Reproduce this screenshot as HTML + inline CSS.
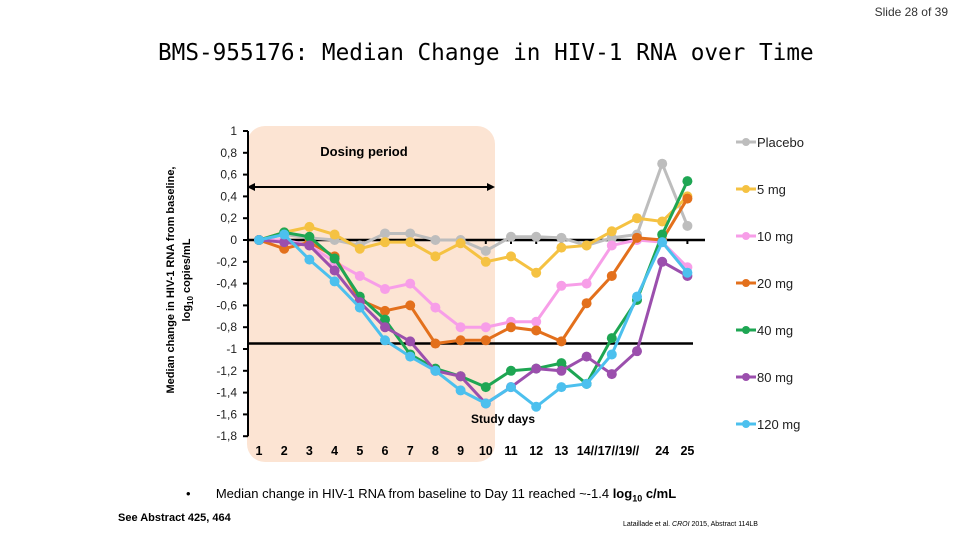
<!DOCTYPE html>
<html><head><meta charset="utf-8"><style>
body{margin:0;width:960px;height:540px;background:#fff;overflow:hidden;font-family:"Liberation Sans","DejaVu Sans",sans-serif;position:relative}
.a{position:absolute;white-space:nowrap}
</style></head><body>
<div class="a" style="right:12px;top:5px;font-size:12px;color:#333">Slide 28 of 39</div>
<div class="a" style="left:158px;top:40px;font-family:'DejaVu Sans Mono','Liberation Mono',monospace;font-size:22.7px;color:#000">BMS-955176: Median Change in HIV-1 RNA over Time</div>
<svg id="chart" width="960" height="540" style="position:absolute;left:0;top:0" font-family="Liberation Sans, DejaVu Sans, sans-serif"></svg>
<div class="a" style="left:186px;top:486px;font-size:13px;color:#000">•&nbsp;&nbsp;&nbsp;&nbsp;&nbsp;&nbsp;&nbsp;Median change in HIV-1 RNA from baseline to Day 11 reached ~-1.4 <b>log<sub style="font-size:9px">10</sub> c/mL</b></div>
<div class="a" style="left:118px;top:512px;font-size:11px;font-weight:bold">See Abstract 425, 464</div>
<div class="a" style="left:623px;top:521px;font-size:7px">Lataillade et al. <i>CROI</i> 2015, Abstract 114LB</div>
<script>
const categories=["1","2","3","4","5","6","7","8","9","10","11","12","13","14//","17//","19//","24","25"];
const seriesNames=["Placebo","5 mg","10 mg","20 mg","40 mg","80 mg","120 mg"];
const colors=["#bdbdbd","#f5c242","#f79ee8","#e3701c","#1ea653","#9b4fad","#4cc0ee"];
const placebo=[0,0.05,0.02,0,-0.05,0.06,0.06,0,0,-0.1,0.03,0.03,0.02,-0.05,0.02,0.05,0.7,0.13];
const mg5=[0,0.07,0.12,0.05,-0.08,-0.02,-0.02,-0.15,-0.03,-0.2,-0.15,-0.3,-0.07,-0.05,0.08,0.2,0.17,0.4];
const mg10=[0,0,-0.05,-0.2,-0.33,-0.45,-0.4,-0.62,-0.8,-0.8,-0.75,-0.75,-0.42,-0.4,-0.05,0,-0.02,-0.25];
const mg20=[0,-0.08,-0.02,-0.15,-0.55,-0.65,-0.6,-0.95,-0.92,-0.92,-0.8,-0.83,-0.93,-0.58,-0.33,0.02,0,0.38];
const mg40=[0,0.07,0.03,-0.17,-0.52,-0.73,-1.05,-1.18,-1.25,-1.35,-1.2,-1.18,-1.13,-1.32,-0.9,-0.55,0.05,0.54];
const mg80=[0,-0.02,-0.05,-0.28,-0.57,-0.8,-0.93,-1.2,-1.25,-1.5,-1.35,-1.18,-1.2,-1.07,-1.23,-1.02,-0.2,-0.33];
const mg120=[0,0.05,-0.18,-0.38,-0.62,-0.92,-1.07,-1.2,-1.38,-1.5,-1.35,-1.53,-1.35,-1.32,-1.05,-0.52,-0.02,-0.3];
const yTicks=[1,0.8,0.6,0.4,0.2,0,-0.2,-0.4,-0.6,-0.8,-1,-1.2,-1.4,-1.6,-1.8];
const xLabels=["1","2","3","4","5","6","7","8","9","10","11","12","13","14//17//19//","24","25"];
const svg=document.getElementById('chart');const NS="http://www.w3.org/2000/svg";
function X(i){return 259+25.2*i}
function Y(v){return 240-109*v}
function mk(t,a,p){const e=document.createElementNS(NS,t);for(const k in a)e.setAttribute(k,a[k]);(p||svg).appendChild(e);return e}
let r=mk('rect',{x:247,y:126,width:248,height:336,rx:18,fill:'#fce4d3'});


let t=mk('text',{x:364,y:156,'font-size':13,'font-weight':'bold','text-anchor':'middle'});t.textContent='Dosing period';


let ar=mk('line',{x1:252,y1:187,x2:488,y2:187,stroke:'#000','stroke-width':2});


mk('path',{d:'M247 187 l8 -4 v8z M495 187 l-8 -4 v8z',fill:'#000'});
let ax=mk('line',{x1:248,y1:Y(1),x2:248,y2:Y(-1.8),stroke:'#000','stroke-width':2});


yTicks.forEach(v=>{mk('line',{x1:243,y1:Y(v),x2:248,y2:Y(v),stroke:'#000','stroke-width':2});
let tt=mk('text',{x:237,y:Y(v)+4,'font-size':12,'text-anchor':'end',fill:'#222'});tt.textContent=String(v).replace('.',',');

});
let z=mk('line',{x1:248,y1:Y(0),x2:705,y2:Y(0),stroke:'#000','stroke-width':2.5});


categories.forEach((c,i)=>mk('line',{x1:X(i),y1:Y(0),x2:X(i),y2:Y(0)+4,stroke:'#000','stroke-width':2}));
let ref=mk('line',{x1:247,y1:Y(-0.95),x2:693,y2:Y(-0.95),stroke:'#000','stroke-width':2.5});


const lblX=[0,1,2,3,4,5,6,7,8,9,10,11,12,13.85,16,17];
xLabels.forEach((l,i)=>{let e=mk('text',{x:X(lblX[i]),y:455,'font-size':12.5,'font-weight':'bold','text-anchor':'middle'});e.textContent=l;

});
let xt=mk('text',{x:503,y:423,'font-size':12,'font-weight':'bold','text-anchor':'middle'});xt.textContent='Study days';


let yt=mk('text',{transform:'translate(174,280) rotate(-90)','font-size':11,'font-weight':'bold','text-anchor':'middle'});yt.textContent='Median change in HIV-1 RNA from baseline,';


let yt2=mk('text',{transform:'translate(190,280) rotate(-90)','font-size':11,'font-weight':'bold','text-anchor':'middle'});yt2.innerHTML='log<tspan font-size="8" dy="3">10</tspan><tspan dy="-3"> copies/mL</tspan>';


const all=[placebo,mg5,mg10,mg20,mg40,mg80,mg120];
all.forEach((s,k)=>{const g=mk('g',{});


mk('polyline',{points:s.map((v,i)=>X(i)+','+Y(v)).join(' '),fill:'none',stroke:colors[k],'stroke-width':3},g);
s.forEach((v,i)=>{let c=mk('circle',{cx:X(i),cy:Y(v),r:5,fill:colors[k]},g);

});
const ly=142+47*k;const lg=mk('g',{});


mk('line',{x1:736,y1:ly,x2:756,y2:ly,stroke:colors[k],'stroke-width':3},lg);
mk('circle',{cx:746,cy:ly,r:4,fill:colors[k]},lg);
let lt=mk('text',{x:757,y:ly+5,'font-size':13,fill:'#222'},lg);lt.textContent=seriesNames[k];});
</script>
</body></html>
